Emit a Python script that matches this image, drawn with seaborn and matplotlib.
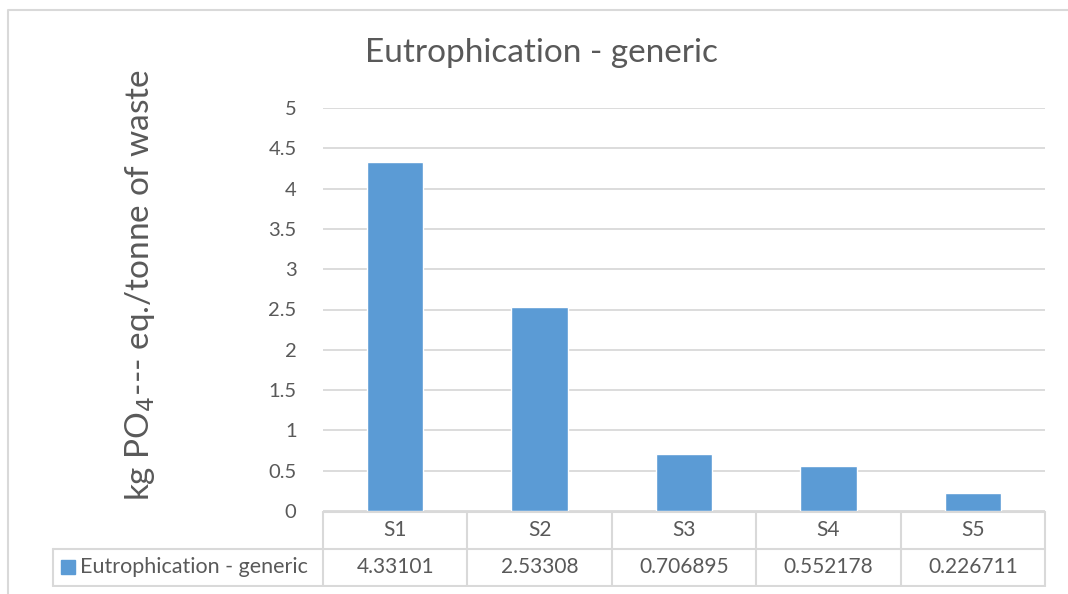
import numpy as np
import pandas as pd
import matplotlib
matplotlib.use("Agg")
import matplotlib.pyplot as plt
import seaborn as sns

# chart values
categories = ["S1", "S2", "S3", "S4", "S5"]
values = [4.33101, 2.53308, 0.706895, 0.552178, 0.226711]
value_labels = ["4.33101", "2.53308", "0.706895", "0.552178", "0.226711"]
series_name = "Eutrophication - generic"
y_ticks = [0, 0.5, 1, 1.5, 2, 2.5, 3, 3.5, 4, 4.5, 5]
y_tick_labels = ["0", "0.5", "1", "1.5", "2", "2.5", "3", "3.5", "4", "4.5", "5"]

BAR = "#5B9BD5"
TXT = "#595959"
GRID = "#D9D9D9"

sns.set_style("white")
plt.rcParams['font.family'] = ['Lato', 'DejaVu Sans']

W, H = 1068, 594
fig = plt.figure(figsize=(W / 100, H / 100), dpi=100)


def px_rect(x0, y0, x1, y1):
    """ pixel box (top-left origin) -> figure fraction rect """
    return [x0 / W, 1 - y1 / H, (x1 - x0) / W, (y1 - y0) / H]


# outer chart border
border = fig.add_axes([0, 0, 1, 1])
border.set_xlim(0, W)
border.set_ylim(H, 0)
border.axis("off")
border.plot([7.5, 7.5, W + 5], [H + 5, 9.5, 9.5], color="#D9D9D9", lw=1.5)

# bar plot area
x0, x1, ytop, ybot = 323, 1045, 108, 511
ax = fig.add_axes(px_rect(x0, ytop, x1, ybot))
df = pd.DataFrame({"scenario": categories, "value": values})
sns.barplot(data=df, x="scenario", y="value", color=BAR, width=0.39,
            saturation=1, ax=ax, zorder=3)
ax.set_xlim(-0.5, len(categories) - 0.5)
ax.set_ylim(0, 5)
ax.set_yticks(y_ticks)
ax.set_yticklabels(y_tick_labels)
ax.yaxis.grid(True, color=GRID, lw=1.3, zorder=0)
ax.set_axisbelow(True)
ax.tick_params(axis="y", length=0, pad=19, labelsize=14.5, labelcolor=TXT)
ax.set_xticks([])
ax.set_xlabel("")
ax.set_ylabel("")
for s in ax.spines.values():
    s.set_visible(False)

fig.text(541 / W, 1 - 53 / H, series_name, ha="center", va="center",
         fontsize=24, color=TXT)
fig.text(140 / W, 1 - 285 / H, "kg PO$_4$--- eq./tonne of waste",
         rotation=90, ha="center", va="center", fontsize=24, color=TXT)

# data table under the axis
tb = fig.add_axes(px_rect(0, 511, W, 587))
tb.set_xlim(0, W)
tb.set_ylim(587, 511)
tb.axis("off")
lc = "#D9D9D9"
col_w = (x1 - x0) / len(categories)
r0, r1, r2 = 511.5, 549, 585.5
tb.plot([x0, x1], [r0, r0], color=lc, lw=1.5)
tb.plot([53, x1], [r1, r1], color=lc, lw=1.5)
tb.plot([53, x1], [r2, r2], color=lc, lw=1.5)
tb.plot([53, 53], [r1, r2], color=lc, lw=1.5)
for i in range(len(categories) + 1):
    xx = x0 + i * col_w
    tb.plot([xx, xx], [r0, r2], color=lc, lw=1.5)
for i, (cat, lab) in enumerate(zip(categories, value_labels)):
    cx = x0 + (i + 0.5) * col_w
    tb.text(cx, (r0 + r1) / 2, cat, ha="center", va="center",
            fontsize=15, color=TXT)
    tb.text(cx, (r1 + r2) / 2, lab, ha="center", va="center",
            fontsize=15, color=TXT)
tb.add_patch(plt.Rectangle((61, 560), 14, 14, color=BAR))
tb.text(80, (r1 + r2) / 2, series_name, ha="left", va="center",
        fontsize=15.5, color=TXT)

fig.savefig("out.png", dpi=100)
